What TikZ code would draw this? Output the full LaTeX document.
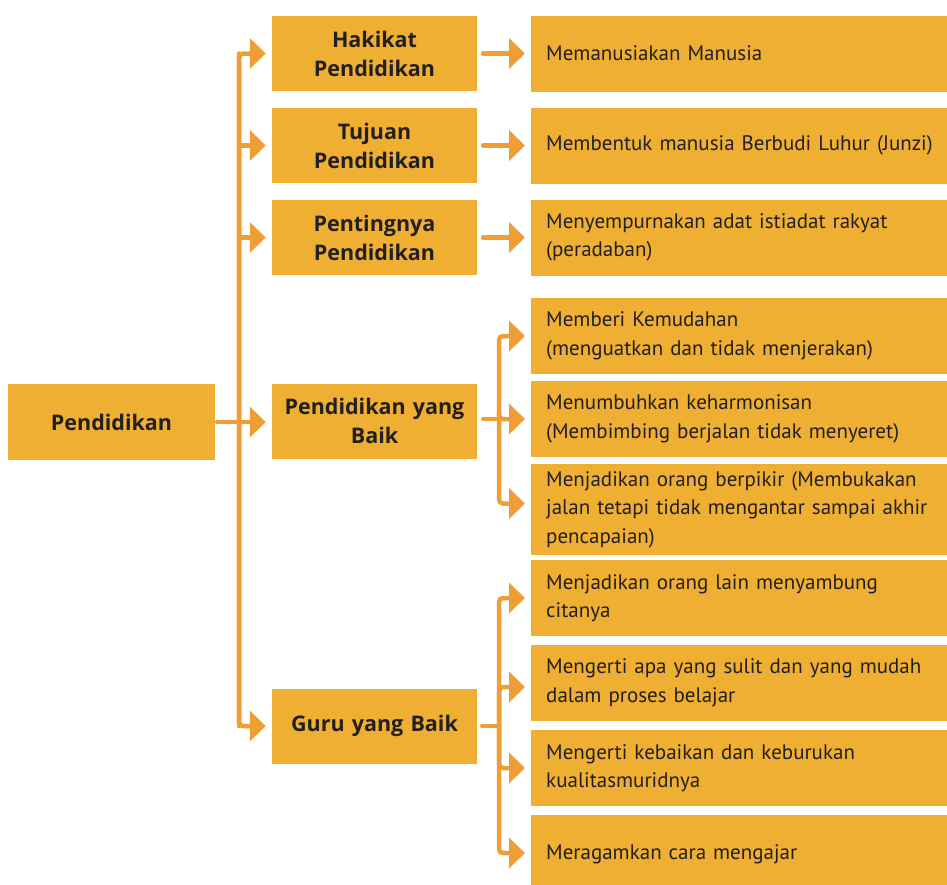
\documentclass[tikz,border=0pt]{standalone}
\usepackage{fontspec}
\setmainfont{PT Sans}
\newfontfamily\tebal{Open Sans}
\usetikzlibrary{arrows.meta, positioning}
\definecolor{kotak}{HTML}{EFAF33}
\definecolor{panah}{HTML}{EE9E35}
\definecolor{tulisan}{HTML}{231F20}
\tikzstyle{pokok} = [rectangle, minimum width=207pt, minimum height=76pt,
inner sep=0pt, text centered, fill=kotak, text=tulisan,
font=\tebal\bfseries\fontsize{21.5}{29}\selectfont]
\tikzstyle{bagian} = [rectangle, minimum width=205pt, minimum height=75pt,
inner sep=0pt, text width=200pt, align=center, fill=kotak, text=tulisan,
font=\tebal\bfseries\fontsize{21.5}{29}\selectfont]
\tikzstyle{isi} = [rectangle, anchor=west, minimum width=416pt, minimum
height=76pt, inner xsep=15pt, inner ysep=0pt, text width=410pt, align=left,
fill=kotak, text=tulisan, font=\fontsize{21}{28.5}\selectfont]
\tikzstyle{arrow} = [line width=4.5pt, draw=panah, line cap=round,
rounded corners=4pt, -{Triangle[length=16pt,width=30pt]}, shorten >=6pt]
\tikzstyle{connector} = [line width=4.5pt, draw=panah, line cap=round]

\begin{document}
\begin{tikzpicture}[x=1pt, y=-1pt]
\useasboundingbox (0,0) rectangle (947,884);

\node(root)[pokok] at (111.5,422){Pendidikan};

\node(hakikat)[bagian] at (374.5,53.5){Hakikat\\Pendidikan};
\node(tujuan)[bagian] at (374.5,145.5){Tujuan\\Pendidikan};
\node(penting)[bagian] at (374.5,237.5){Pentingnya\\Pendidikan};
\node(baik)[bagian] at (374.5,421){Pendidikan yang\\Baik};
\node(guru)[bagian] at (374.5,726){Guru yang Baik};

\node(manusia)[isi] at (531,53.5){Memanusiakan Manusia};
\node(luhur)[isi] at (531,145.5){Membentuk manusia Berbudi Luhur (Junzi)};
\node(adat)[isi] at (531,237.5){Menyempurnakan adat istiadat rakyat\\
(peradaban)};
\node(mudah)[isi] at (531,336){Memberi Kemudahan\\
(menguatkan dan tidak menjerakan)};
\node(harmonis)[isi] at (531,419){Menumbuhkan keharmonisan\\
(Membimbing berjalan tidak menyeret)};
\node(berpikir)[isi, minimum height=91pt] at (531,509.5){Menjadikan orang
berpikir (Membukakan\\ jalan tetapi tidak mengantar sampai akhir\\
pencapaian)};
\node(cita)[isi] at (531,598){Menjadikan orang lain menyambung\\ citanya};
\node(sulit)[isi] at (531,683){Mengerti apa yang sulit dan yang mudah\\
dalam proses belajar};
\node(kualitas)[isi] at (531,768){Mengerti kebaikan dan keburukan\\
kualitasmuridnya};
\node(ragam)[isi, minimum height=78pt] at (531,854){Meragamkan cara mengajar};

\coordinate(kiri) at (239,0);
\coordinate(kanan1) at (499,419);
\coordinate(kanan2) at (499,726);

\draw[arrow](kiri |- guru.west) |- (hakikat);
\draw[arrow](kiri |- hakikat.west) |- (guru);
\draw[arrow](kiri |- tujuan.west) -- (tujuan);
\draw[arrow](kiri |- penting.west) -- (penting);
\draw[arrow, shorten <=2pt](root.east) -- (root.east -| baik.west);

\draw[arrow, shorten <=6pt](hakikat) -- (manusia);
\draw[arrow, shorten <=6pt](tujuan) -- (luhur);
\draw[arrow, shorten <=6pt](penting) -- (adat);

\draw[connector, shorten <=6pt](kanan1 -| baik.east) -- (kanan1);
\draw[arrow](kanan1) |- (mudah);
\draw[arrow](kanan1) |- (harmonis);
\draw[arrow](kanan1) |- ([yshift=6pt]berpikir.west);

\draw[connector, shorten <=5pt](kanan2 -| guru.east) -- (kanan2);
\draw[arrow](kanan2) |- (cita);
\draw[arrow](kanan2) |- ([yshift=-4pt]sulit.west);
\draw[arrow](kanan2) |- (kualitas);
\draw[arrow](kanan2) |- ([yshift=1pt]ragam.west);

\end{tikzpicture}
\end{document}
